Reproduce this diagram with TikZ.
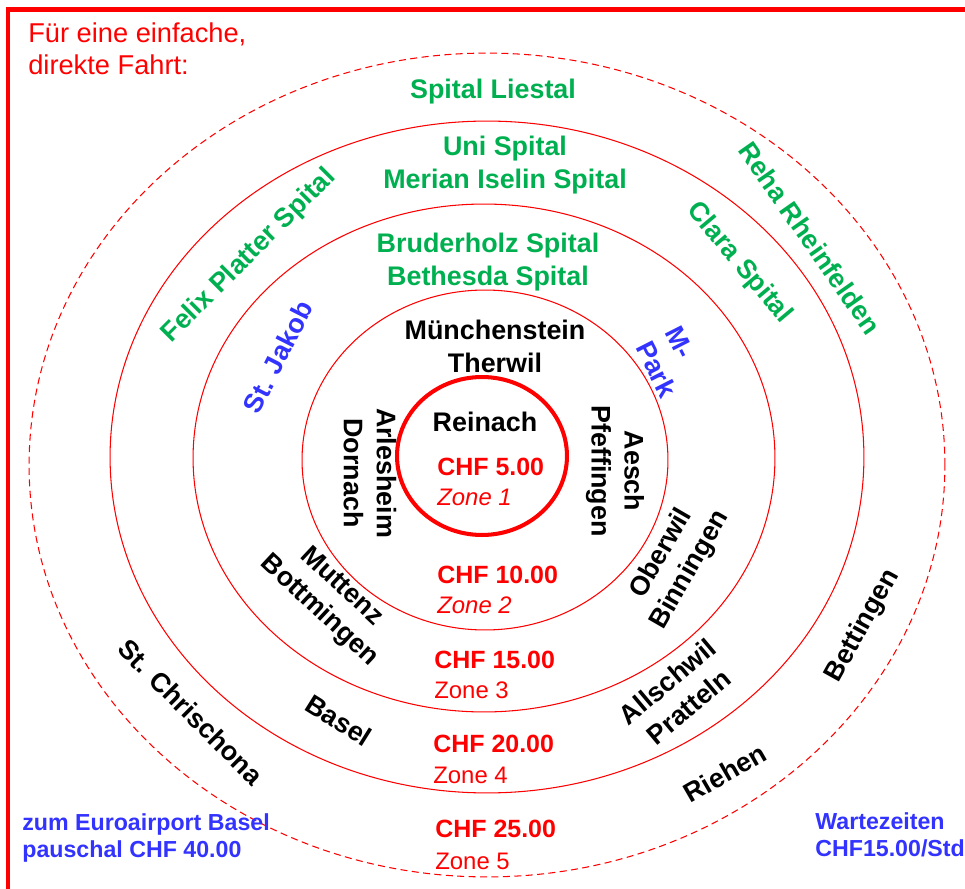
\documentclass[tikz,border=0pt]{standalone}
\usepackage{fontspec}
\setmainfont{Liberation Sans}
\usepackage{xcolor}

\definecolor{spitalgruen}{RGB}{0,176,80}
\definecolor{ortblau}{RGB}{51,51,255}

\begin{document}
\begin{tikzpicture}[x=0.02cm, y=-0.02cm,
    ring/.style={red, line width=0.6pt},
    ort/.style={font=\bfseries\fontsize{15.3}{18.7}\selectfont, align=center, inner sep=0pt},
    spital/.style={ort, text=spitalgruen},
    blau/.style={ort, text=ortblau},
    preis/.style={text=red, anchor=base west, inner sep=0pt, font=\bfseries\fontsize{14.2}{17}\selectfont},
    zone/.style={text=red, anchor=base west, inner sep=0pt, font=\fontsize{13.6}{16}\selectfont},
    hinweis/.style={text=ortblau, anchor=north west, align=left, inner sep=0pt, font=\bfseries\fontsize{13.2}{15.3}\selectfont}]
            \useasboundingbox (0,0) rectangle (965,889);
            
            % Rahmen
            \draw[red, line width=2.8pt] (8,889) -- (8,9.5) -- (965,9.5);
            
            % Zonenringe
            \draw[red, line width=2.3pt] (482,456) ellipse [x radius=1.7cm, y radius=1.58cm];
            \draw[ring] (485,460) ellipse [x radius=3.66cm, y radius=3.4cm];
            \draw[ring] (484,458) ellipse [x radius=5.82cm, y radius=5.08cm];
            \draw[ring] (487,457) ellipse [x radius=7.54cm, y radius=6.72cm];
            \draw[ring, dash pattern=on 4pt off 2.5pt] (487,465) ellipse [x radius=9.16cm, y radius=8.24cm];
            
            \node[text=red, anchor=north west, align=left, inner sep=0pt, font=\fontsize{15.5}{18.7}\selectfont] (titel) at (28,22) {F\"ur eine einfache,\\direkte Fahrt:};
            
            % Zone 1
            \node[ort] (reinach) at (485,422) {Reinach};
            \node[preis] (preis1) at (437,475) {CHF 5.00};
            \node[zone, font=\itshape\fontsize{13.6}{16}\selectfont] (zone1) at (437,505) {Zone 1};
            
            % Zone 2
            \node[ort] (muenchenstein) at (495,346) {M\"unchenstein\\Therwil};
            \node[ort, rotate=-90] (arlesheim) at (370,473) {Arlesheim\\Dornach};
            \node[ort, rotate=-90] (aesch) at (615,471) {Aesch\\Pfeffingen};
            \node[preis] (preis2) at (437,583) {CHF 10.00};
            \node[zone, font=\itshape\fontsize{13.6}{16}\selectfont] (zone2) at (437,613) {Zone 2};
            
            % Zone 3
            \node[spital] (bruderholz) at (488,262) {Bruderholz Spital\\Bethesda Spital};
            \node[blau, rotate=63] (jakob) at (278,357) {St. Jakob};
            \node[blau, rotate=-63, align=left] (mpark) at (671,362) {M-\\Park};
            \node[ort, rotate=60] (oberwil) at (676,562) {Oberwil\\Binningen};
            \node[ort, rotate=-43] (muttenz) at (330,599) {Muttenz\\Bottmingen};
            \node[preis] (preis3) at (434,668) {CHF 15.00};
            \node[zone] (zone3) at (434,698) {Zone 3};
            
            % Zone 4
            \node[spital] (unispital) at (505,165) {Uni Spital\\Merian Iselin Spital};
            \node[spital, rotate=45] (felix) at (249,256) {Felix Platter Spital};
            \node[spital, rotate=-50] (clara) at (739,263) {Clara Spital};
            \node[ort, rotate=40] (allschwil) at (678,694) {Allschwil\\Pratteln};
            \node[ort, rotate=-32] (basel) at (339,720) {Basel};
            \node[preis] (preis4) at (433,752) {CHF 20.00};
            \node[zone] (zone4) at (433,783) {Zone 4};
            
            % Zone 5
            \node[spital] (liestal) at (493,92) {Spital Liestal};
            \node[spital, rotate=-55] (reha) at (810,238) {Reha Rheinfelden};
            \node[ort, rotate=61] (bettingen) at (863,626) {Bettingen};
            \node[ort, rotate=30] (riehen) at (725,773) {Riehen};
            \node[ort, rotate=-45] (chrischona) at (191,712) {St. Chrischona};
            \node[preis] (preis5) at (435,837) {CHF 25.00};
            \node[zone] (zone5) at (435,869) {Zone 5};
            
            % Hinweise
            \node[hinweis] (euroairport) at (22,813) {zum Euroairport Basel\\pauschal CHF 40.00};
            \node[hinweis] (wartezeit) at (815,812) {Wartezeiten\\CHF15.00/Std};
        \end{tikzpicture}
\end{document}
